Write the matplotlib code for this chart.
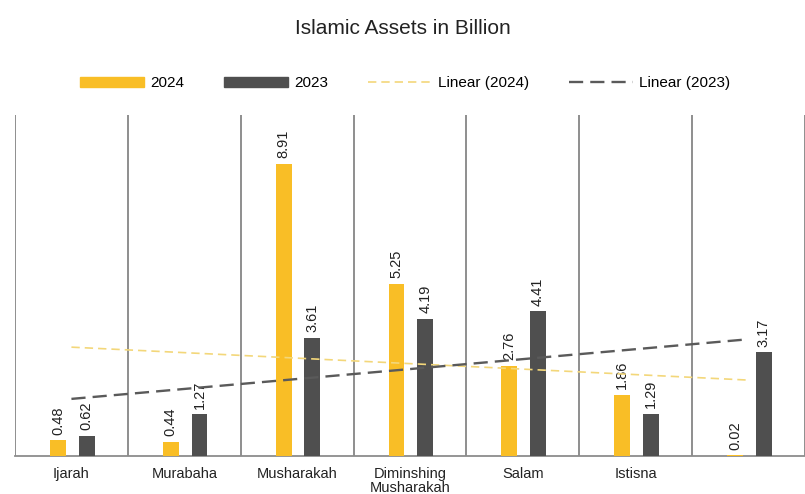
import numpy as np
import matplotlib.pyplot as plt
from matplotlib.patches import Patch
from matplotlib.lines import Line2D

plt.rcParams['font.family'] = ['Liberation Sans', 'DejaVu Sans']

# Islamic financing assets by product, in billions
categories = ['Ijarah', 'Murabaha', 'Musharakah', 'Diminshing\nMusharakah',
              'Salam', 'Istisna', '']
assets_2024 = [0.48, 0.44, 8.91, 5.25, 2.76, 1.86, 0.02]
assets_2023 = [0.62, 1.27, 3.61, 4.19, 4.41, 1.29, 3.17]

YELLOW = '#F9BE26'
DARK = '#4F4F4F'
TEXT = '#222222'

x = np.arange(len(categories))

fig = plt.figure(figsize=(8.05, 4.94), dpi=100)
ax = fig.add_axes([15 / 805, 38 / 494, 790 / 805, 341 / 494])

bars24 = ax.bar(x - 0.12, assets_2024, width=0.14, color=YELLOW, zorder=3)
bars23 = ax.bar(x + 0.135, assets_2023, width=0.14, color=DARK, zorder=3)

ax.bar_label(bars24, labels=[f'{v:.2f}' for v in assets_2024], rotation=90,
             padding=4, fontsize=10.5, color=TEXT)
ax.bar_label(bars23, labels=[f'{v:.2f}' for v in assets_2023], rotation=90,
             padding=4, fontsize=10.5, color=TEXT)

# linear trendlines across category positions
for vals, col, lw, dash in [(assets_2024, '#F3D77A', 1.2, (5, 3)),
                            (assets_2023, '#5A5A5A', 1.7, (6, 3))]:
    k, b = np.polyfit(x, vals, 1)
    ax.plot(x, k * x + b, color=col, lw=lw, dashes=dash, zorder=4)

# category boundaries as vertical gridlines
for edge in np.arange(-0.5, len(categories), 1.0):
    ax.axvline(edge, color='#8E8E8E', lw=1.4, zorder=1)

ax.set_xlim(-0.5, len(categories) - 0.5)
ax.set_ylim(0, 10.4)
ax.set_xticks(x)
ax.set_xticklabels(categories, fontsize=10.5, color=TEXT, linespacing=1.0)
ax.tick_params(axis='x', length=0, pad=8)
ax.set_yticks([])
for side in ['top', 'right', 'left']:
    ax.spines[side].set_visible(False)
ax.spines['bottom'].set_color('#8C8C8C')
ax.spines['bottom'].set_linewidth(1.3)

fig.text(0.5, 1 - 28 / 494, 'Islamic Assets in Billion', ha='center', va='center',
         fontsize=15, color=TEXT)

handles = [Patch(color=YELLOW), Patch(color=DARK),
           Line2D([], [], color='#F3D77A', lw=1.2, dashes=(5, 3)),
           Line2D([], [], color='#5A5A5A', lw=1.7, dashes=(6, 3))]
fig.legend(handles, ['2024', '2023', 'Linear (2024)', 'Linear (2023)'],
           loc='center', bbox_to_anchor=(405 / 805, 1 - 83 / 494), ncol=4,
           frameon=False, fontsize=11, handlelength=4.2, handleheight=0.65,
           handletextpad=0.4, columnspacing=2.6)

fig.savefig('out.png', dpi=100)
